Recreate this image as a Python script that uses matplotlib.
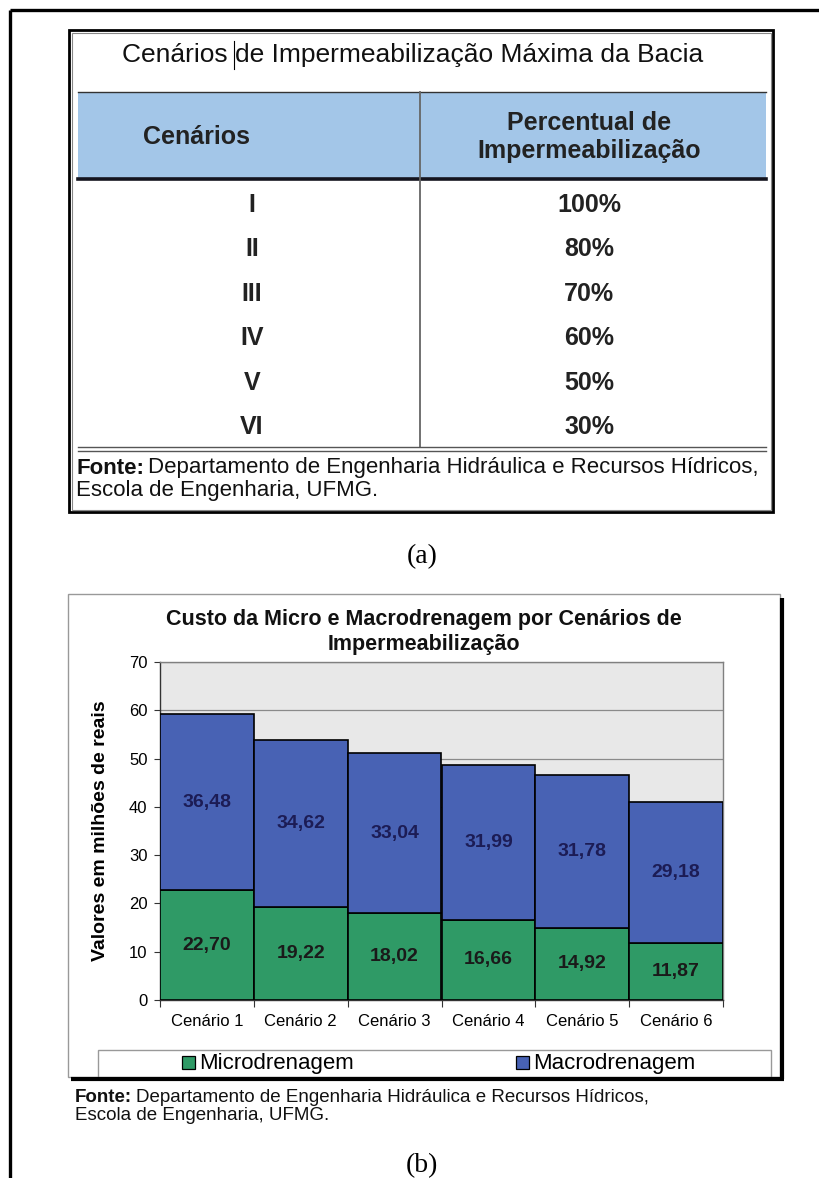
import matplotlib
matplotlib.use("Agg")
import matplotlib.pyplot as plt
from matplotlib.patches import Rectangle

# dados da tabela (a)
cenarios_tab = ['I', 'II', 'III', 'IV', 'V', 'VI']
percentuais = ['100%', '80%', '70%', '60%', '50%', '30%']

# dados do grafico (b)
categorias = ['Cenário 1', 'Cenário 2', 'Cenário 3', 'Cenário 4', 'Cenário 5', 'Cenário 6']
micro = [22.70, 19.22, 18.02, 16.66, 14.92, 11.87]
macro = [36.48, 34.62, 33.04, 31.99, 31.78, 29.18]
yticks = [0, 10, 20, 30, 40, 50, 60, 70]

NARROW = ['Liberation Sans Narrow', 'Liberation Sans', 'DejaVu Sans']
SERIF = ['Liberation Serif', 'DejaVu Serif']
VERDE = '#2f9a66'
AZUL = '#4862b4'

W, H = 819, 1178
fig = plt.figure(figsize=(W / 100, H / 100), dpi=100)
fig.patch.set_facecolor('white')

# eixo de fundo em pixels (y para baixo)
bg = fig.add_axes([0, 0, 1, 1])
bg.set_xlim(0, W)
bg.set_ylim(H, 0)
bg.axis('off')


def fim_x(t):
    # extremidade direita de um texto, em pixels do eixo de fundo
    fig.canvas.draw()
    bb = t.get_window_extent()
    return bg.transData.inverted().transform((bb.x1, bb.y0))[0]


# moldura externa
bg.plot([10, 10], [10, H], color='black', lw=2.4, solid_capstyle='butt')
bg.plot([10, W], [10, 10], color='black', lw=2.4, solid_capstyle='butt')

# ---------- tabela (a) ----------
bg.add_patch(Rectangle((69, 30), 704, 482, fill=False, ec='black', lw=2.0))
bg.add_patch(Rectangle((71.5, 32.5), 699, 477, fill=False, ec='#888888', lw=0.8))

t1 = bg.text(122, 55, 'Cenários ', family=NARROW, fontsize=19,
             ha='left', va='center', color='#111111')
xc = fim_x(t1)
bg.text(xc, 55, 'de Impermeabilização Máxima da Bacia', family=NARROW, fontsize=19,
        ha='left', va='center', color='#111111')
bg.plot([xc - 1, xc - 1], [41, 69], color='black', lw=0.8)

bg.add_patch(Rectangle((78, 92), 688, 86, fc='#a3c6e8', ec='none'))
bg.plot([78, 766], [92, 92], color='#333333', lw=1.0)
bg.plot([78, 766], [179, 179], color='#14141e', lw=2.6)
bg.plot([420, 420], [92, 447], color='#666666', lw=1.3)

bg.text(196, 137, 'Cenários', family=NARROW, fontsize=18, fontweight='bold',
        ha='center', va='center', color='#222222')
bg.text(589, 137, 'Percentual de\nImpermeabilização', family=NARROW, fontsize=18,
        fontweight='bold', ha='center', va='center', color='#222222', linespacing=1.25)

y0, dy = 205, 44.4
for i, (c, p) in enumerate(zip(cenarios_tab, percentuais)):
    bg.text(252, y0 + i * dy, c, family=NARROW, fontsize=18, fontweight='bold',
            ha='center', va='center', color='#222222')
    bg.text(589, y0 + i * dy, p, family=NARROW, fontsize=18, fontweight='bold',
            ha='center', va='center', color='#222222')

bg.plot([78, 766], [447, 447], color='#555555', lw=1.0)
bg.plot([78, 766], [451, 451], color='#555555', lw=1.0)


def fonte(x, y, resto, tam):
    t = bg.text(x, y, 'Fonte:', family=NARROW, fontsize=tam, fontweight='bold',
                ha='left', va='center', color='#111111')
    xd = fim_x(t)
    bg.text(xd + 4, y, resto[0], family=NARROW, fontsize=tam, ha='left',
            va='center', color='#111111')
    bg.text(x, y + tam * 1.38, resto[1], family=NARROW, fontsize=tam, ha='left',
            va='center', color='#111111')


fonte(76, 468, ['Departamento de Engenharia Hidráulica e Recursos Hídricos,',
                'Escola de Engenharia, UFMG.'], 16)

bg.text(422, 557, '(a)', family=SERIF, fontsize=20, ha='center', va='center')

# ---------- grafico (b) ----------
bg.add_patch(Rectangle((68, 594), 712, 483, fc='white', ec='#999999', lw=1.0))
bg.plot([782, 782], [598, 1079], color='black', lw=3.0, solid_capstyle='butt')
bg.plot([71, 783.5], [1078.5, 1078.5], color='black', lw=3.0, solid_capstyle='butt')

bg.text(424, 632, 'Custo da Micro e Macrodrenagem por Cenários de\nImpermeabilização',
        family=NARROW, fontsize=15.5, fontweight='bold', ha='center', va='center',
        color='#111111', linespacing=1.2)

ax = fig.add_axes([160 / W, (H - 1000) / H, 563 / W, 338 / H])
ax.set_facecolor('#e8e8e8')
x = list(range(len(categorias)))
ax.bar(x, micro, width=1.0, color=VERDE, edgecolor='black', lw=1.2, zorder=3)
ax.bar(x, macro, width=1.0, bottom=micro, color=AZUL, edgecolor='black', lw=1.2, zorder=3)
for i in x:
    ax.text(i, micro[i] / 2, f'{micro[i]:.2f}'.replace('.', ','), family=NARROW,
            fontsize=14, fontweight='bold', ha='center', va='center', color='#1a1a1a', zorder=4)
    ax.text(i, micro[i] + macro[i] / 2, f'{macro[i]:.2f}'.replace('.', ','), family=NARROW,
            fontsize=14, fontweight='bold', ha='center', va='center', color='#1c1c55', zorder=4)

ax.set_xlim(-0.5, len(categorias) - 0.5)
ax.set_ylim(0, 70)
ax.set_yticks(yticks)
ax.set_yticklabels([str(v) for v in yticks], family=NARROW, fontsize=12)
ax.set_xticks([i - 0.5 for i in range(len(categorias) + 1)])
ax.set_xticklabels([])
ax.set_xticks(x, minor=True)
ax.set_xticklabels(categorias, minor=True, family=NARROW, fontsize=12)
ax.tick_params(axis='x', which='major', length=5, direction='out', color='#333333')
ax.tick_params(axis='x', which='minor', length=0, pad=10)
ax.tick_params(axis='y', length=4, color='#333333', pad=5)
ax.yaxis.grid(True, color='#8a8a8a', lw=0.9, zorder=1)
for s in ax.spines.values():
    s.set_color('#808080')
    s.set_linewidth(1.0)
ax.spines['left'].set_color('#333333')
ax.spines['bottom'].set_color('#333333')
ax.set_ylabel('Valores em milhões de reais', family=NARROW, fontsize=14,
              fontweight='bold', labelpad=14)

# legenda
bg.add_patch(Rectangle((98, 1050), 673, 27, fc='white', ec='#999999', lw=1.0))
bg.add_patch(Rectangle((182, 1056), 13, 13, fc=VERDE, ec='black', lw=0.9))
bg.text(199, 1063, 'Microdrenagem', family=NARROW, fontsize=16, ha='left', va='center')
bg.add_patch(Rectangle((516, 1056), 13, 13, fc=AZUL, ec='black', lw=0.9))
bg.text(533, 1063, 'Macrodrenagem', family=NARROW, fontsize=16, ha='left', va='center')

fonte(75, 1097, ['Departamento de Engenharia Hidráulica e Recursos Hídricos,',
                 'Escola de Engenharia, UFMG.'], 13.5)

bg.text(422, 1166, '(b)', family=SERIF, fontsize=20, ha='center', va='center')

fig.savefig('out.png', dpi=100)
